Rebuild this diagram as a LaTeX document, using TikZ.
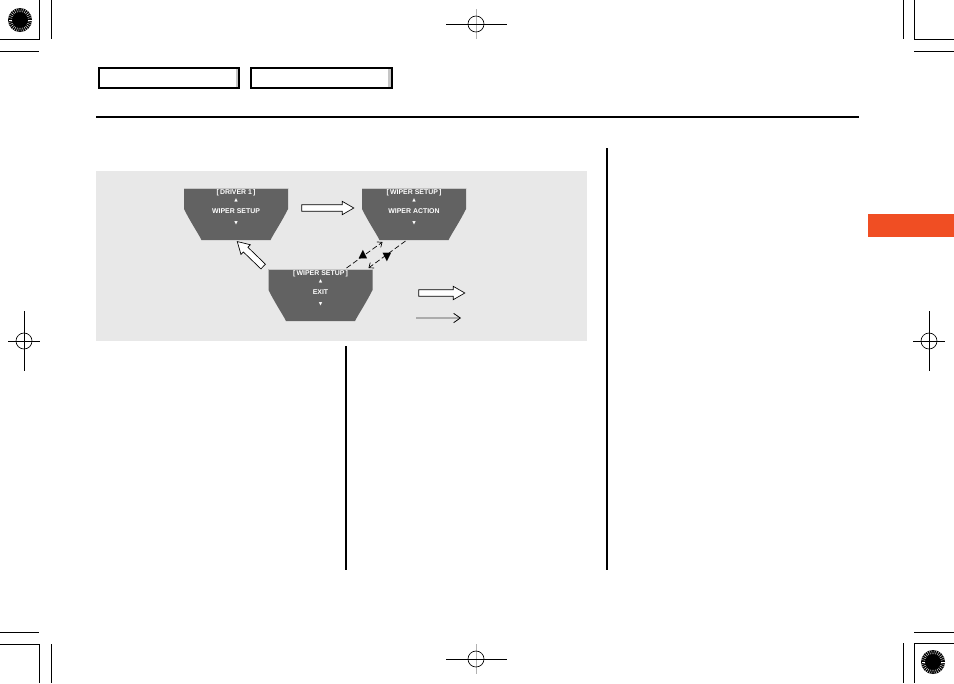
\documentclass[tikz,border=0pt]{standalone}
\usepackage{fontspec}
\setsansfont{Liberation Sans}
\newfontfamily\symfont{DejaVu Sans}
\usetikzlibrary{calc,arrows.meta,shapes.arrows}
\definecolor{PanelGray}{HTML}{E8E8E8}
\definecolor{ScreenGray}{HTML}{626262}
\definecolor{TabOrange}{HTML}{F04E23}

% display screen: name, centre x, top y, title line, item line
\newcommand{\lcdscreen}[5]{%
  \fill[ScreenGray] (#2-52,#3) -- (#2-52,#3+21)
    .. controls (#2-45,#3+35) and (#2-38,#3+45) .. (#2-34.5,#3+52)
    -- (#2+34.5,#3+52)
    .. controls (#2+38,#3+45) and (#2+45,#3+35) .. (#2+52,#3+21)
    -- (#2+52,#3) -- cycle;
  \draw[gray!45, line width=0.6pt] (#2-52,#3) -- (#2+52,#3);
  \coordinate (#1-nw) at (#2-52,#3);
  \coordinate (#1-ne) at (#2+52,#3);
  \coordinate (#1-sw) at (#2-34.5,#3+52);
  \coordinate (#1-se) at (#2+34.5,#3+52);
  \coordinate (#1-s) at (#2,#3+52);
  \node[scrtext] (#1-title) at (#2,#3+5) {#4};
  \node[scrmark] (#1-up) at (#2,#3+12) {▲};
  \node[scrtext] (#1) at (#2,#3+23) {#5};
  \node[scrmark] (#1-down) at (#2,#3+35) {▼};
}

\begin{document}
\begin{tikzpicture}[
  x=0.75pt, y=-0.75pt,
  crop/.style={line width=0.5pt},
  scrtext/.style={text=white, inner sep=0pt, font=\sffamily\bfseries\fontsize{5.2}{5.2}\selectfont},
  scrmark/.style={text=white, inner sep=0pt, font=\symfont\fontsize{3.4}{3.4}\selectfont},
  keymark/.style={inner sep=0pt, font=\symfont\fontsize{8.5}{8.5}\selectfont},
  tabbox/.style={draw=black, line width=1.2pt, fill=white, minimum height=15pt, inner sep=0pt,
    path picture={\fill[gray!45] ([xshift=-2.6pt]path picture bounding box.north east) rectangle (path picture bounding box.south east);}},
  fatarrow/.style={single arrow, draw=black, fill=white, line width=0.5pt, inner xsep=0pt, inner ysep=2.2pt,
    single arrow head extend=2.6pt, single arrow tip angle=60},
  dasharrow/.style={line width=0.5pt, dash pattern=on 4pt off 2pt, -{Straight Barb[length=3pt,width=5pt]}},
  thinarrow/.style={draw=gray!65, line width=1.4pt, -{Straight Barb[color=black, line width=0.6pt, length=5pt, width=7pt]}}
]
\useasboundingbox (0,0) rectangle (954,683);

% page marks
\fill[black] (20,20) circle (12);
\foreach \a in {0,12,...,348} \draw[white, line width=0.3pt] (20,20) ++(\a:8) -- ++(\a:3.5);
\fill[black] (20,20) circle (7);
\fill[black] (933,662) circle (12);
\foreach \a in {0,12,...,348} \draw[white, line width=0.3pt] (933,662) ++(\a:8) -- ++(\a:3.5);
\fill[black] (933,662) circle (7);
\draw[crop] (39,0) -- (39,39) -- (0,39);
\draw[crop] (51,0) -- (51,39);
\draw[crop] (0,51) -- (39,51);
\draw[crop] (914,0) -- (914,39) -- (954,39);
\draw[crop] (903,0) -- (903,39);
\draw[crop] (914,51) -- (954,51);
\draw[crop] (0,644) -- (39,644) -- (39,683);
\draw[crop] (51,644) -- (51,683);
\draw[crop] (0,632) -- (39,632);
\draw[crop] (954,643) -- (914,643) -- (914,683);
\draw[crop] (903,643) -- (903,683);
\draw[crop] (914,632) -- (954,632);
\foreach \cx/\cy in {476/24, 476/659} {
  \draw[crop, gray!60] (\cx,\cy-15) -- (\cx,\cy+15);
  \draw[crop] (\cx-30,\cy) -- (\cx+31,\cy);
  \draw[crop] (\cx,\cy) circle (8);
}
\foreach \cx/\cy in {24/341, 929/341} {
  \draw[crop] (\cx-16,\cy) -- (\cx+16,\cy);
  \draw[crop] (\cx,\cy-30) -- (\cx,\cy+30);
  \draw[crop] (\cx,\cy) circle (8);
}

% header
\node[tabbox, minimum width=105pt] (tabA) at (169,78) {};
\node[tabbox, minimum width=105.5pt] (tabB) at (321.5,78) {};
\draw[line width=1pt] (96,117) -- (859,117);
\fill[TabOrange] (868,214) rectangle (954,237);
\draw[line width=1.2pt] (607,148) -- (607,570);
\draw[line width=1.2pt] (346,346) -- (346,570);

% diagram panel
\fill[PanelGray] (96,171) rectangle (587,341);
\lcdscreen{drv}{236}{188}{[\,DRIVER 1\,]}{WIPER SETUP}
\lcdscreen{act}{414}{188}{[\,WIPER SETUP\,]}{WIPER ACTION}
\lcdscreen{exit}{320.5}{269}{[\,WIPER SETUP\,]}{EXIT}

\node[fatarrow, minimum height=39pt] (fwd) at ($(drv)!0.5!(act)+(0,-3)$) {};
\node[fatarrow, minimum height=27pt, rotate=136] (back) at ($(exit-nw)!0.5!(drv-s)+(0,1.5)$) {};
\draw[dasharrow] ($(exit-ne)+(-26,-1)$) -- ($(act-sw)+(3,2)$);
\draw[dasharrow] ($(act-sw)+(26,1)$) -- ($(exit-ne)+(-4,-1)$);
\node[keymark] (upkey) at (363,255) {▲};
\node[keymark] (downkey) at (387,258) {▼};

% legend
\node[fatarrow, minimum height=34.5pt] (legfat) at (439,293) {};
\coordinate (legA) at (416,318);
\coordinate (legB) at (461,318);
\draw[thinarrow] (legA) -- (legB);
\end{tikzpicture}
\end{document}
